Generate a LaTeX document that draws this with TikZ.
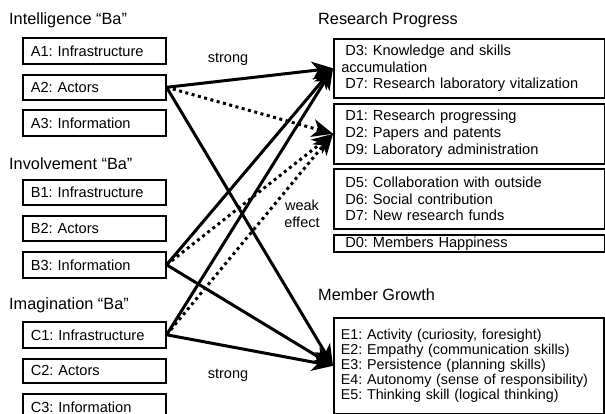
\documentclass[tikz,border=0pt]{standalone}
\usepackage{fontspec}
\setmainfont{Liberation Sans}
\usetikzlibrary{arrows.meta}
\frenchspacing
\begin{document}
\begin{tikzpicture}[x=1pt,y=-1pt,
  title/.style={anchor=west,inner sep=0pt,font=\frenchspacing\fontsize{16.3}{18}\selectfont},
  lbox/.style={draw,line width=1.6pt,anchor=north west,minimum height=26pt,
    text width=127pt,inner xsep=8pt,align=left,font=\frenchspacing\fontsize{14.6}{16.7}\selectfont},
  dbox/.style={draw,line width=1.6pt,anchor=north west,
    text width=256pt,inner xsep=7.5pt,inner ysep=2pt,align=left,font=\frenchspacing\fontsize{14.6}{16.7}\selectfont},
  ebox/.style={draw,line width=1.6pt,anchor=north west,
    text width=256pt,inner xsep=7pt,inner ysep=2pt,align=left,font=\frenchspacing\fontsize{14.3}{15.2}\selectfont},
  lbl/.style={inner sep=0pt,font=\fontsize{14.5}{16.7}\selectfont,align=center},
  strongarrow/.style={line width=3pt,-{Stealth[length=21pt,width=18pt,inset=6pt]}},
  weakarrow/.style={line width=3pt,dash pattern=on 3pt off 3.5pt,-{Stealth[length=21pt,width=18pt,inset=6pt]}}
]
\path[clip] (0,0) rectangle (605,414);
% titles
\node[title] (tA) at (9,20) {Intelligence “Ba”};
\node[title] (tB) at (9,164) {Involvement “Ba”};
\node[title] (tC) at (9,305) {Imagination “Ba”};
\node[title] (tD) at (318,20) {Research Progress};
\node[title] (tE) at (318,295) {Member Growth};
% left boxes
\node[lbox] (A1) at (22,37) {A1: Infrastructure};
\node[lbox,minimum height=25pt] (A2) at (22,74) {A2: Actors};
\node[lbox] (A3) at (22,109) {A3: Information};
\node[lbox,minimum height=25pt] (B1) at (22,179) {B1: Infrastructure};
\node[lbox,minimum height=25pt] (B2) at (22,215) {B2: Actors};
\node[lbox] (B3) at (22,251) {B3: Information};
\node[lbox] (C1) at (22,321) {C1: Infrastructure};
\node[lbox,minimum height=24pt] (C2) at (22,358) {C2: Actors};
\node[lbox] (C3) at (22,393) {C3: Information};
% right boxes
\node[dbox,minimum height=59pt] (D3) at (333,38) {\hspace*{4pt}D3: Knowledge and skills\\accumulation\\\hspace*{4pt}D7: Research laboratory vitalization};
\node[dbox,minimum height=60pt] (D1) at (333,103) {\hspace*{4pt}D1: Research progressing\\\hspace*{4pt}D2: Papers and patents\\\hspace*{4pt}D9: Laboratory administration};
\node[dbox,minimum height=60pt] (D5) at (333,168) {\hspace*{4pt}D5: Collaboration with outside\\\hspace*{4pt}D6: Social contribution\\\hspace*{4pt}D7: New research funds};
\node[dbox,minimum height=17pt,inner ysep=0pt] (D0) at (333,234) {\hspace*{4pt}D0: Members Happiness};
\node[ebox,minimum height=96pt] (E) at (333,317) {E1: Activity (curiosity, foresight)\\E2: Empathy (communication skills)\\E3: Persistence (planning skills)\\E4: Autonomy (sense of responsibility)\\E5: Thinking skill (logical thinking)};
% labels
\node[lbl] (s1) at (228,59) {strong};
\node[lbl] (s2) at (228,375) {strong};
\node[lbl] (we) at (302,214) {weak\\effect};
% arrows
\draw[strongarrow] (A2.east) -- (D3.west);
\draw[strongarrow] (B3.east) -- (D3.west);
\draw[strongarrow] (C1.east) -- (D3.west);
\draw[weakarrow] (A2.east) -- (D1.west);
\draw[weakarrow] (B3.east) -- (D1.west);
\draw[weakarrow] (C1.east) -- (D1.west);
\draw[strongarrow] (A2.east) -- (E.west);
\draw[strongarrow] (B3.east) -- (E.west);
\draw[strongarrow] (C1.east) -- (E.west);
\end{tikzpicture}
\end{document}
